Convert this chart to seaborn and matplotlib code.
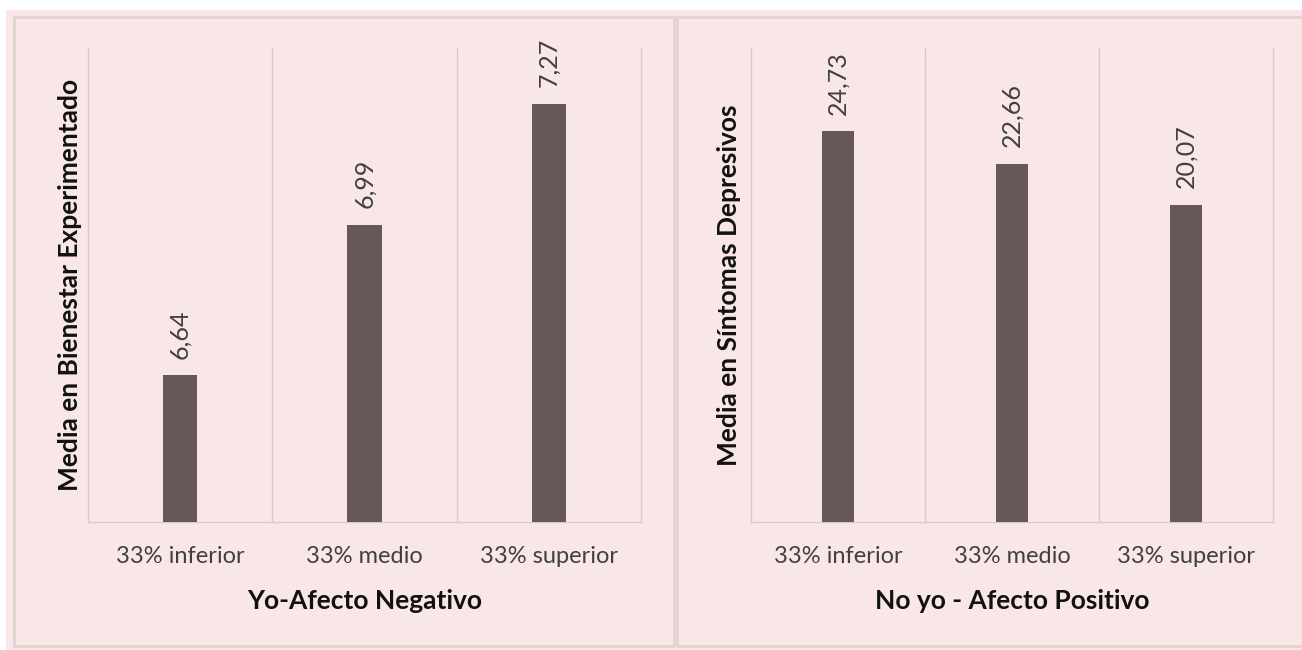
import matplotlib
matplotlib.use("Agg")
import matplotlib.pyplot as plt
import seaborn as sns
import pandas as pd
from matplotlib.patches import Rectangle

categories = ["33% inferior", "33% medio", "33% superior"]
left_values = [6.64, 6.99, 7.27]
right_values = [24.73, 22.66, 20.07]
left_xlabel = "Yo-Afecto Negativo"
right_xlabel = "No yo - Afecto Positivo"
left_ylabel = "Media en Bienestar Experimentado"
right_ylabel = "Media en Síntomas Depresivos"

sns.set_theme(style="white")
plt.rcParams['font.family'] = ['Lato', 'DejaVu Sans']

BG = "#F9E7E7"
BAR = "#655856"
GRID = "#D8CACA"
BORDER = "#E2D2D2"
TXT = "#404040"

W, H = 1302, 650
fig = plt.figure(figsize=(W / 100, H / 100), dpi=100, facecolor="white")

def fx(px):
    return px / W

def fy(py):
    return 1 - py / H

# pink background
fig.patches.append(Rectangle((fx(6), fy(650)), fx(1302 - 6), 640 / H,
                             transform=fig.transFigure, facecolor=BG,
                             edgecolor="none", zorder=-2))
# panel borders
for x0, x1 in [(14, 674), (677, 1310)]:
    fig.patches.append(Rectangle((fx(x0), fy(646)), fx(x1 - x0), (646 - 17) / H,
                                 transform=fig.transFigure, facecolor="none",
                                 edgecolor=BORDER, linewidth=2.0, zorder=-1))

def panel(rect_px, values, ylim, xlabel, ylabel, ylabelpad):
    x0, y0, x1, y1 = rect_px
    ax = fig.add_axes([fx(x0), fy(y1), fx(x1 - x0), (y1 - y0) / H])
    ax.set_facecolor("none")
    df = pd.DataFrame({"cat": categories, "val": values})
    sns.barplot(data=df, x="cat", y="val", color=BAR, width=0.185,
                saturation=1, linewidth=0, edgecolor="none", ax=ax, zorder=3)
    ax.set_xlim(-0.5, 2.5)
    ax.set_ylim(*ylim)
    ax.set_yticks([])
    ax.set_xticks([0, 1, 2])
    ax.set_xticks([0.5, 1.5], minor=True)
    ax.grid(False)
    ax.grid(True, which="minor", axis="x", color=GRID, linewidth=1.0)
    ax.tick_params(axis="x", which="both", length=0, pad=17,
                   labelsize=17, labelcolor=TXT)
    for s in ["left", "right", "bottom"]:
        ax.spines[s].set_visible(True)
        ax.spines[s].set_color(GRID)
        ax.spines[s].set_linewidth(1.0)
    ax.spines["top"].set_visible(False)
    labels = [f"{v:.2f}".replace(".", ",") for v in values]
    ax.bar_label(ax.containers[0], labels=labels, rotation=90, padding=12,
                 fontsize=18, color=TXT)
    ax.set_xlabel(xlabel, fontsize=19, fontweight="bold", color="#111111",
                  labelpad=16)
    ax.set_ylabel(ylabel, fontsize=19, fontweight="bold", color="#111111",
                  labelpad=ylabelpad)
    return ax

panel((88, 48, 641, 522), left_values, (6.3, 7.4), left_xlabel, left_ylabel, 4)
panel((751, 48, 1273, 522), right_values, (0, 30), right_xlabel, right_ylabel, 7)

fig.savefig("out.png", dpi=100, facecolor="white")
